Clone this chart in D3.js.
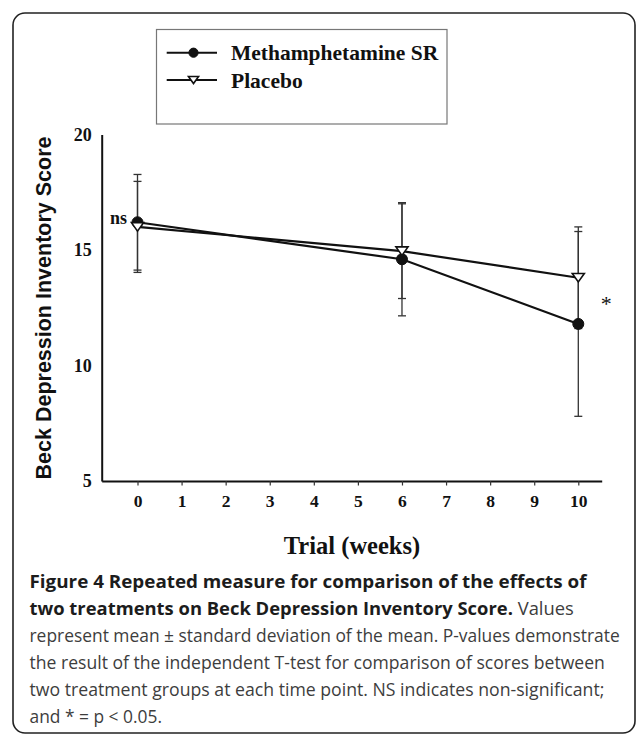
<!DOCTYPE html>
<html><head><meta charset="utf-8">
<script src="https://cdn.jsdelivr.net/npm/d3@7"></script>
<style>html,body{margin:0;padding:0;background:#fff;} svg{display:block}</style>
</head><body>
<svg id="chart" width="637" height="735"></svg>
<script>
// ---- data ----
const weeks = [0, 6, 10];
const methMean = [16.2, 14.6, 11.8];
const methSD = [2.07, 2.45, 4.0];
const placeboMean = [16.0, 14.95, 13.8];
const placeboSD = [1.97, 2.05, 2.2];
const xTicks = [0, 1, 2, 3, 4, 5, 6, 7, 8, 9, 10];
const yTicks = [5, 10, 15, 20];
const seriesNames = ["Methamphetamine SR", "Placebo"];
const sigLabels = ["ns", "", "*"];
const xTitle = "Trial (weeks)";
const yTitle = "Beck Depression Inventory Score";
const captionLines = [
  [["b", "Figure 4 Repeated measure for comparison of the effects of"]],
  [["b", "two treatments on Beck Depression Inventory Score."], ["r", " Values"]],
  [["r", "represent mean \u00b1 standard deviation of the mean. P-values demonstrate"]],
  [["r", "the result of the independent T-test for comparison of scores between"]],
  [["r", "two treatment groups at each time point. NS indicates non-significant;"]],
  [["r", "and * = p < 0.05."]]
];

// ---- layout ----
const svg = d3.select("#chart");
const serif = "'Liberation Serif','Times New Roman',serif";
const sans = "'Liberation Sans',Arial,sans-serif";

svg.append("rect").attr("x", 13).attr("y", 13).attr("width", 622).attr("height", 720)
  .attr("rx", 12).attr("fill", "#fff").attr("stroke", "#222").attr("stroke-width", 1.6);

const x = d3.scaleLinear().domain([0, 10]).range([137.5, 578.3]);
const xAxisStart = x.invert(101.7), xAxisEnd = x.invert(601.7);
const xa = d3.scaleLinear().domain([xAxisStart, xAxisEnd]).range([101.7, 601.7]);
const y = d3.scaleLinear().domain([5, 20]).range([481, 134.5]);

// x axis
const gx = svg.append("g").attr("transform", "translate(0,481)")
  .call(d3.axisBottom(xa).tickValues(xTicks).tickSize(4.5).tickSizeOuter(0).tickPadding(9).tickFormat(d3.format("d")));
gx.select(".domain").attr("stroke", "#111").attr("stroke-width", 2);
gx.selectAll(".tick line").attr("stroke", "#333").attr("stroke-width", 1.2);
gx.selectAll(".tick text").attr("font-family", serif).attr("font-weight", "bold")
  .attr("font-size", 17.5).attr("fill", "#111");

// y axis
const gy = svg.append("g").attr("transform", "translate(101.7,0)")
  .call(d3.axisLeft(y).tickValues(yTicks).tickSize(0).tickSizeOuter(0).tickPadding(10));
gy.select(".domain").attr("stroke", "#111").attr("stroke-width", 2);
gy.selectAll(".tick text").attr("font-family", serif).attr("font-weight", "bold")
  .attr("font-size", 18).attr("fill", "#111");

// titles
svg.append("text").attr("x", 352).attr("y", 554).attr("text-anchor", "middle")
  .attr("font-family", serif).attr("font-weight", "bold").attr("font-size", 24.5).attr("fill", "#111")
  .text(xTitle);
svg.append("text").attr("transform", "translate(51,308) rotate(-90)").attr("text-anchor", "middle")
  .attr("font-family", sans).attr("font-weight", "bold").attr("font-size", 21.5).attr("fill", "#111")
  .text(yTitle);

// series
const series = [
  {name: seriesNames[0], mean: methMean, sd: methSD, marker: "circle"},
  {name: seriesNames[1], mean: placeboMean, sd: placeboSD, marker: "tri"}
];
const capW = 4;
const plot = svg.append("g");
// error bars
series.forEach(s => {
  weeks.forEach((w, i) => {
    const cx = x(w), top = y(s.mean[i] + s.sd[i]), bot = y(s.mean[i] - s.sd[i]);
    const g = plot.append("g").attr("stroke", "#333").attr("stroke-width", 1.3);
    g.append("line").attr("x1", cx).attr("x2", cx).attr("y1", top).attr("y2", bot);
    g.append("line").attr("x1", cx - capW).attr("x2", cx + capW).attr("y1", top).attr("y2", top);
    g.append("line").attr("x1", cx - capW).attr("x2", cx + capW).attr("y1", bot).attr("y2", bot);
  });
});
const line = d3.line().x(d => x(d[0])).y(d => y(d[1]));
series.forEach(s => {
  plot.append("path").datum(weeks.map((w, i) => [w, s.mean[i]]))
    .attr("d", line).attr("fill", "none").attr("stroke", "#111").attr("stroke-width", 2.2);
});
function drawMarker(g, type, cx, cy, size) {
  if (type === "circle") {
    g.append("circle").attr("cx", cx).attr("cy", cy).attr("r", size).attr("fill", "#111").attr("stroke", "#111");
  } else {
    const w = size * 1.1, h = size * 1.55;
    g.append("path").attr("d", `M${cx - w},${cy - h / 2}L${cx + w},${cy - h / 2}L${cx},${cy + h / 2}Z`)
      .attr("fill", "#fff").attr("stroke", "#111").attr("stroke-width", 1.6).attr("stroke-linejoin", "miter");
  }
}
series.forEach(s => {
  weeks.forEach((w, i) => drawMarker(plot, s.marker, x(w), y(s.mean[i]), 5.5));
});

// significance labels
weeks.forEach((w, i) => {
  if (!sigLabels[i]) return;
  if (i === 0) {
    svg.append("text").attr("x", x(w) - 10.5).attr("y", y(methMean[i]) + 2).attr("text-anchor", "end")
      .attr("font-family", serif).attr("font-weight", "bold").attr("font-size", 18).attr("fill", "#111")
      .text(sigLabels[i]);
  } else {
    const mid = (y(methMean[i]) + y(placeboMean[i])) / 2;
    svg.append("text").attr("x", x(w) + 28).attr("y", mid + 10).attr("text-anchor", "middle")
      .attr("font-family", serif).attr("font-size", 22).attr("fill", "#111")
      .text(sigLabels[i]);
  }
});

// legend
svg.append("rect").attr("x", 156.5).attr("y", 29.5).attr("width", 290.5).attr("height", 94.5)
  .attr("fill", "#fff").attr("stroke", "#777").attr("stroke-width", 1.2);
const legY = [52.7, 80];
series.forEach((s, i) => {
  const g = svg.append("g");
  g.append("line").attr("x1", 166.7).attr("x2", 217).attr("y1", legY[i]).attr("y2", legY[i])
    .attr("stroke", "#111").attr("stroke-width", 2);
  drawMarker(g, s.marker, 193.5, legY[i], 4.6);
  g.append("text").attr("x", 231).attr("y", legY[i] + 7.5)
    .attr("font-family", serif).attr("font-weight", "bold").attr("font-size", 21.5).attr("fill", "#111")
    .text(s.name);
});

// caption
const capEnds = [587, 574, 620, 605, 605, 162];
const capX = 29.5, capY0 = 587.5, capDy = 27.1;
captionLines.forEach((parts, i) => {
  const t = svg.append("text").attr("x", 0).attr("y", 0)
    .attr("font-family", "'Open Sans','Noto Sans',sans-serif").attr("font-size", 18.5);
  parts.forEach(p => {
    t.append("tspan").attr("font-weight", p[0] === "b" ? "bold" : "normal")
      .attr("fill", p[0] === "b" ? "#1c1c1c" : "#3d3d3d").text(p[1]);
  });
  const w = t.node().getComputedTextLength();
  const sc = (capEnds[i] - capX) / w;
  t.attr("transform", `translate(${capX},${capY0 + i * capDy}) scale(${sc},1)`);
});
</script>
</body></html>
